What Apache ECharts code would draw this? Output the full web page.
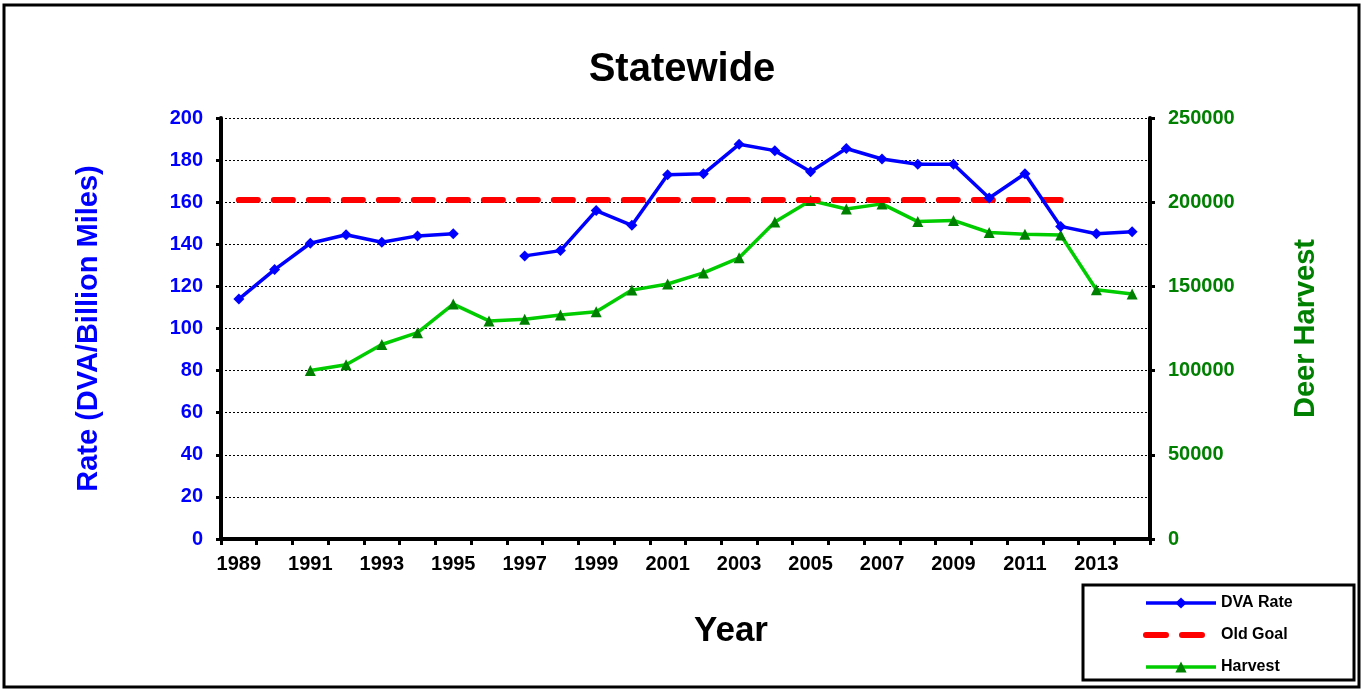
<!DOCTYPE html>
<html>
<head>
<meta charset="utf-8">
<script src="https://cdn.jsdelivr.net/npm/echarts@6/dist/echarts.min.js"></script>
<style>
  html, body { margin: 0; padding: 0; background: #fff; }
  #chart { width: 1364px; height: 690px; }
</style>
</head>
<body>
<div id="chart"></div>
<script>
// Years on the horizontal axis
const years = ['1989','1990','1991','1992','1993','1994','1995','1996','1997','1998','1999','2000','2001',
               '2002','2003','2004','2005','2006','2007','2008','2009','2010','2011','2012','2013','2014'];

// Deer-vehicle accident rate per billion miles (1996 missing)
const dvaRate = [114, 128, 140.5, 144.5, 141, 144, 145, null, 134.5, 137, 156, 149, 173,
                 173.5, 187.5, 184.5, 174.5, 185.5, 180.5, 178, 178, 162, 173.5, 148.5, 145, 146];

// Previous goal rate, drawn through 2012
const oldGoal = [161, 161, 161, 161, 161, 161, 161, 161, 161, 161, 161, 161, 161,
                 161, 161, 161, 161, 161, 161, 161, 161, 161, 161, 161, null, null];

// Statewide deer harvest (starts 1991)
const harvest = [null, null, 100000, 103500, 115500, 122500, 139500, 129500, 130500, 133000, 135000, 147800, 151400,
                 158000, 167000, 188200, 201000, 196000, 199000, 188500, 189200, 182000, 181000, 180500, 148000, 145500];

// Axis tick settings
const rateMax = 200, rateStep = 20;
const harvestMax = 250000, harvestStep = 50000;

const chart = echarts.init(document.getElementById('chart'));
const FONT = 'Liberation Sans, Arial, sans-serif';

chart.setOption({
  animation: false,
  backgroundColor: '#fff',
  title: {
    text: 'Statewide',
    left: 'center',
    top: 45,
    textStyle: { fontFamily: FONT, fontWeight: 'bold', fontSize: 40, color: '#000' }
  },
  graphic: [
    { type: 'rect', shape: { x: 4, y: 5, width: 1355, height: 682 },
      style: { fill: 'none', stroke: '#000', lineWidth: 3 }, silent: true },
    { type: 'rect', shape: { x: 1083, y: 585, width: 271, height: 95 },
      style: { fill: '#fff', stroke: '#000', lineWidth: 3 }, silent: true, z: 0 },
    { type: 'text', x: 731, y: 631, silent: true,
      style: { text: 'Year', fontFamily: FONT, fontWeight: 'bold', fontSize: 35, fill: '#000',
               textAlign: 'center', textVerticalAlign: 'middle' } }
  ],
  legend: {
    orient: 'vertical',
    left: 1143,
    top: 595,
    padding: 0,
    itemWidth: 70,
    itemHeight: 14,
    itemGap: 16,
    z: 10,
    textStyle: { fontFamily: FONT, fontWeight: 'bold', fontSize: 16, color: '#000' },
    data: [
      { name: 'DVA Rate', lineStyle: { width: 3.5 } },
      { name: 'Old Goal', itemStyle: { opacity: 0 }, lineStyle: { width: 6, type: [20, 16] } },
      { name: 'Harvest', lineStyle: { width: 3.5 } }
    ]
  },
  grid: { left: 221, right: 214, top: 118, bottom: 151 },
  xAxis: {
    type: 'category',
    data: years,
    boundaryGap: true,
    axisLine: { lineStyle: { color: '#000', width: 4 } },
    axisTick: { show: true, length: 6, lineStyle: { color: '#000', width: 3 }, interval: 0 },
    axisLabel: { interval: 1, margin: 15, fontFamily: FONT, fontWeight: 'bold', fontSize: 20, color: '#000' },
    splitLine: { show: false }
  },
  yAxis: [
    {
      type: 'value',
      min: 0, max: rateMax, interval: rateStep,
      position: 'left',
      name: 'Rate (DVA/Billion Miles)',
      nameLocation: 'middle',
      nameGap: 118,
      nameTextStyle: { fontFamily: FONT, fontWeight: 'bold', fontSize: 29, color: '#0000ff' },
      axisLine: { show: true, lineStyle: { color: '#000', width: 4 } },
      axisTick: { show: true, length: 5, lineStyle: { color: '#000', width: 3 } },
      axisLabel: { margin: 18, fontFamily: FONT, fontWeight: 'bold', fontSize: 20, color: '#0000ff' },
      splitLine: { show: true, lineStyle: { color: '#000', width: 1, type: [2, 2] } }
    },
    {
      type: 'value',
      min: 0, max: harvestMax, interval: harvestStep,
      position: 'right',
      name: 'Deer Harvest',
      nameLocation: 'middle',
      nameGap: 141,
      nameTextStyle: { fontFamily: FONT, fontWeight: 'bold', fontSize: 29, color: '#008000' },
      axisLine: { show: true, lineStyle: { color: '#000', width: 4 } },
      axisTick: { show: true, length: 5, lineStyle: { color: '#000', width: 3 } },
      axisLabel: { margin: 18, fontFamily: FONT, fontWeight: 'bold', fontSize: 20, color: '#008000',
                   formatter: (v) => String(v) },
      splitLine: { show: false }
    }
  ],
  series: [
    {
      name: 'DVA Rate',
      type: 'line',
      data: dvaRate,
      yAxisIndex: 0,
      connectNulls: false,
      symbol: 'diamond',
      symbolSize: 11,
      itemStyle: { color: '#0000ff' },
      lineStyle: { color: '#0000ff', width: 3.5 },
      z: 4
    },
    {
      name: 'Old Goal',
      type: 'line',
      data: oldGoal,
      yAxisIndex: 0,
      symbol: 'none',
      itemStyle: { color: '#ff0000' },
      lineStyle: { color: '#ff0000', width: 6, type: [19, 16], cap: 'round' },
      z: 3
    },
    {
      name: 'Harvest',
      type: 'line',
      data: harvest,
      yAxisIndex: 1,
      symbol: 'triangle',
      symbolSize: 11,
      itemStyle: { color: '#008000' },
      lineStyle: { color: '#00cc00', width: 3.5 },
      z: 2
    }
  ]
});
</script>
</body>
</html>
